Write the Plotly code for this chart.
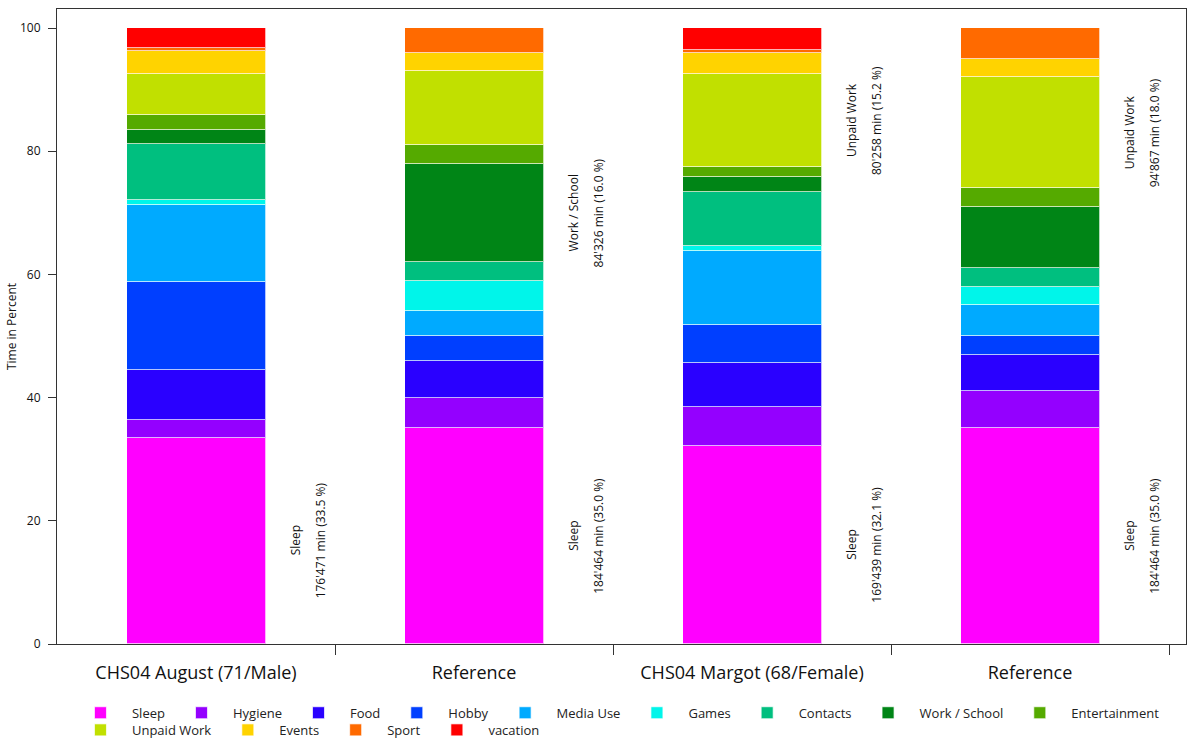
import plotly.graph_objects as go

# ---------------- data ----------------
categories = ["CHS04 August (71/Male)", "Reference", "CHS04 Margot (68/Female)", "Reference"]

activities = ["Sleep", "Hygiene", "Food", "Hobby", "Media Use", "Games", "Contacts",
              "Work / School", "Entertainment", "Unpaid Work", "Events", "Sport", "vacation"]

sleep = [33.5, 35.0, 32.1, 35.0]
hygiene = [2.9, 5.0, 6.3, 6.0]
food = [8.1, 6.0, 7.2, 6.0]
hobby = [14.2, 4.0, 6.2, 3.0]
media_use = [12.5, 4.0, 12.0, 5.0]
games = [0.9, 5.0, 0.9, 3.0]
contacts = [9.1, 3.0, 8.7, 3.0]
work_school = [2.2, 16.0, 2.4, 10.0]
entertainment = [2.5, 3.0, 1.6, 3.0]
unpaid_work = [6.7, 12.0, 15.2, 18.0]
events = [3.7, 3.0, 3.4, 3.0]
sport = [0.4, 4.0, 0.5, 5.0]
vacation = [3.3, 0.0, 3.5, 0.0]

series = [sleep, hygiene, food, hobby, media_use, games, contacts,
          work_school, entertainment, unpaid_work, events, sport, vacation]

colors = ["#FF00FF", "#9400FF", "#2A00FF", "#003FFF", "#00AAFF", "#00F5EA", "#00BF7F",
          "#008516", "#55AA00", "#C1E000", "#FFD300", "#FF6A00", "#FF0000"]

# legend row each activity sits in
legend_rows = ["legend"] * 9 + ["legend2"] * 4

# labelled segments: bar index, activity, minutes text
ann_bar = [0, 1, 1, 2, 2, 3, 3]
ann_activity = ["Sleep", "Sleep", "Work / School", "Sleep", "Unpaid Work", "Sleep", "Unpaid Work"]
ann_minutes = ["176'471", "184'464", "84'326", "169'439", "80'258", "184'464", "94'867"]

y_ticks = [0, 20, 40, 60, 80, 100]

# ---------------- figure ----------------
FONT = "Open Sans"
positions = list(range(len(categories)))
bar_width = 0.5

fig = go.Figure()
for name, vals, col, lg in zip(activities, series, colors, legend_rows):
    fig.add_trace(go.Bar(
        x=positions, y=vals, name=name, width=bar_width, legend=lg,
        marker=dict(color=col, line=dict(color="rgba(255,255,255,0.7)", width=1)),
    ))

# invisible trace to activate boundary-tick axis
fig.add_trace(go.Scatter(x=[None], y=[None], xaxis="x2", showlegend=False, hoverinfo="skip"))

annotations = []
for b, act, mins in zip(ann_bar, ann_activity, ann_minutes):
    idx = activities.index(act)
    base = sum(series[k][b] for k in range(idx))
    val = series[idx][b]
    ymid = base + val / 2
    xr = positions[b] + bar_width / 2
    for text, shift in ((act, 30), (f"{mins} min ({val:.1f} %)", 55)):
        annotations.append(dict(
            x=xr, y=ymid, xref="x", yref="y", text=text, showarrow=False,
            textangle=-90, xshift=shift, xanchor="center", yanchor="middle",
            font=dict(family=FONT, size=12, color="#111111"),
        ))

legend_common = dict(
    orientation="h", xanchor="left", yanchor="top",
    font=dict(family=FONT, size=13, color="#222222"),
    traceorder="normal", itemwidth=53, bgcolor="rgba(0,0,0,0)",
)

fig.update_layout(
    width=1192, height=740,
    barmode="stack",
    bargap=0,
    plot_bgcolor="white", paper_bgcolor="white",
    margin=dict(l=57, r=6, t=9, b=96, autoexpand=False),
    font=dict(family=FONT, color="#111111"),
    annotations=annotations,
    showlegend=True,
    legend=dict(x=0.0106, y=-0.0847, **legend_common),
    legend2=dict(x=0.0106, y=-0.1117, **legend_common),
    xaxis=dict(
        range=[-0.5, 3.561], tickmode="array", tickvals=positions, ticktext=categories,
        ticks="outside", ticklen=12, tickcolor="rgba(0,0,0,0)",
        tickfont=dict(family=FONT, size=18, color="#111111"),
        showline=True, linecolor="#333333", linewidth=1, mirror=True,
        showgrid=False, zeroline=False, automargin=False,
    ),
    xaxis2=dict(
        overlaying="x", anchor="y", side="bottom",
        range=[-0.5, 3.561], tickmode="array", tickvals=[p + 0.5 for p in positions],
        ticks="outside", ticklen=10, tickcolor="#333333", tickwidth=1,
        showticklabels=False, showline=False, showgrid=False, zeroline=False,
        automargin=False,
    ),
    yaxis=dict(
        range=[0, 103.1], tickmode="array", tickvals=y_ticks,
        ticks="outside", ticklen=8, tickcolor="#333333", ticklabelstandoff=5,
        tickfont=dict(family=FONT, size=12, color="#111111"),
        title=dict(text="Time in Percent", font=dict(family=FONT, size=12, color="#111111"), standoff=0),
        showline=True, linecolor="#333333", linewidth=1, mirror=True,
        showgrid=False, zeroline=False, automargin=False,
    ),
)

fig.write_html("out.html", config={"displayModeBar": False},
               post_script="document.body.style.margin='0';")
